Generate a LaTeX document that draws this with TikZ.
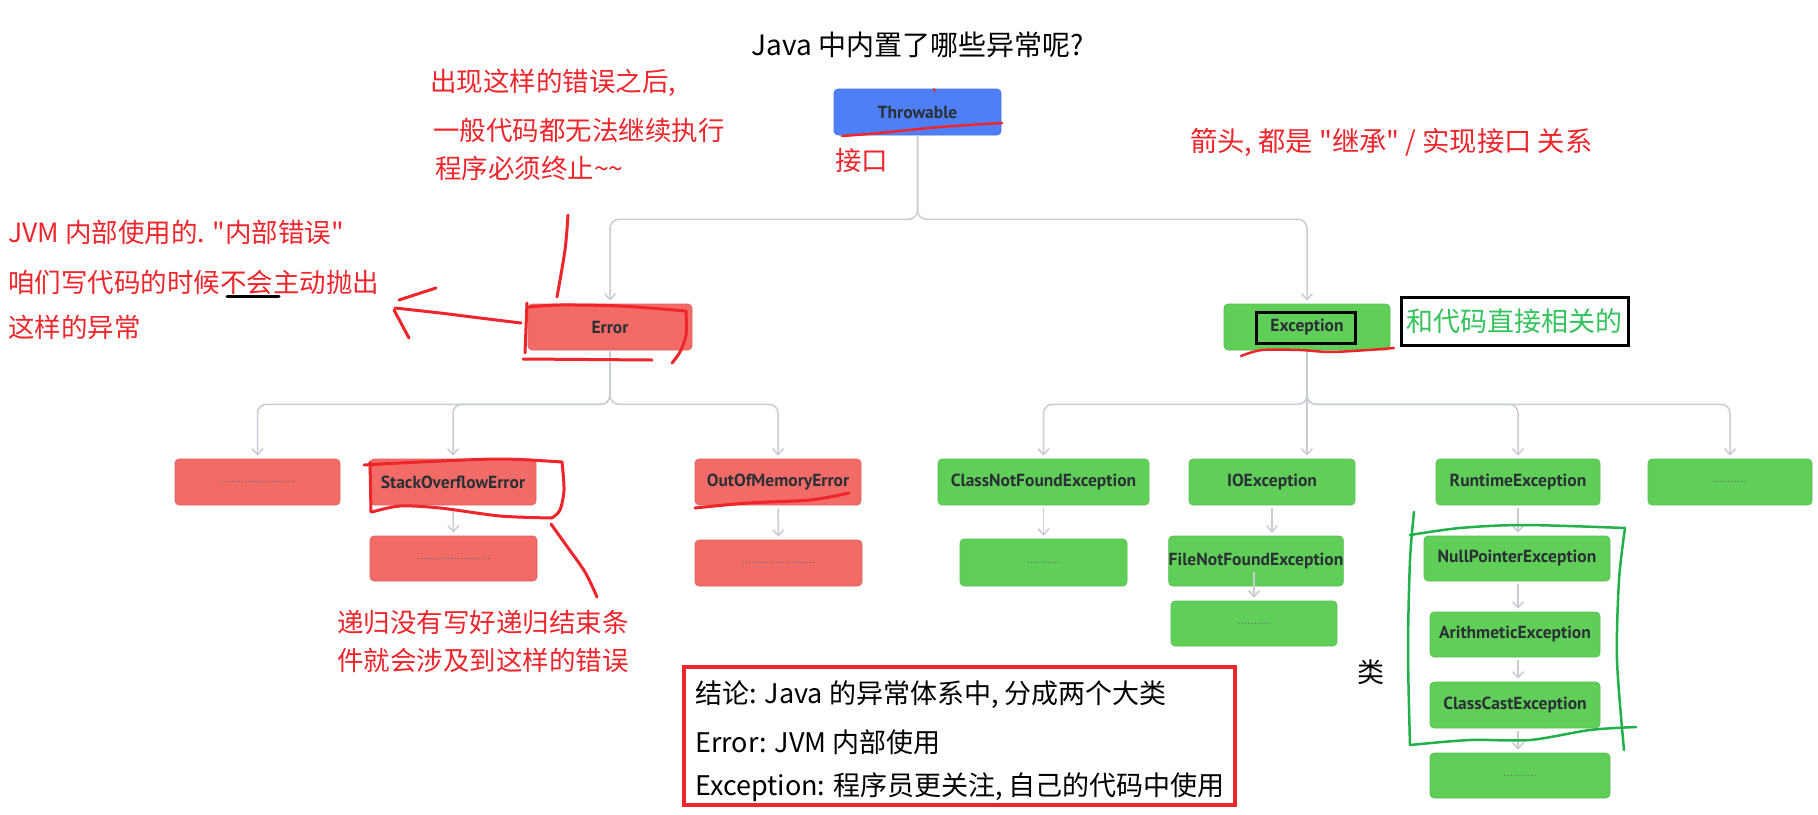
\documentclass[tikz,border=0pt]{standalone}
\usepackage{fontspec}
\setmainfont{Noto Sans CJK SC}[Ligatures=TeXOff]
\newfontfamily\boxfont{PT Sans}
\usetikzlibrary{arrows.meta}
\definecolor{thrblue}{HTML}{4E7FF6}
\definecolor{errred}{HTML}{F26B67}
\definecolor{excgreen}{HTML}{60CF58}
\definecolor{conngray}{HTML}{C8CCD3}
\definecolor{boxtext}{HTML}{2B2F36}
\definecolor{penred}{HTML}{EE262C}
\definecolor{pengreen}{HTML}{22B04A}
\definecolor{txtgreen}{HTML}{35C35C}
\definecolor{dotgray}{HTML}{6A6E75}
\tikzset{
 box/.style={rounded corners=4pt, inner sep=0pt, minimum height=46pt, font=\boxfont\bfseries\fontsize{17.5}{20}\selectfont, text=boxtext},
 bbox/.style={box, fill=thrblue, draw=thrblue!90!black, line width=0.6pt},
 ebox/.style={box, fill=errred, draw=errred!92!black, line width=0.6pt},
 gbox/.style={box, fill=excgreen, draw=excgreen!92!black, line width=0.6pt},
 conn/.style={draw=conngray, line width=1.5pt, rounded corners=9pt, -{Straight Barb[length=6pt,width=11pt]}, shorten >=3pt},
 kid/.style={conn, shorten <=3pt},
 pen/.style={draw=penred, line width=3pt, line cap=round, line join=round},
 gpen/.style={draw=pengreen, line width=2.5pt, line cap=round, line join=round},
 note/.style={text=penred, font=\fontsize{26.5}{30}\selectfont, inner sep=0pt, anchor=west},
 plain/.style={text=black, font=\fontsize{27}{30}\selectfont, inner sep=0pt, anchor=west},
}
\newcommand{\longdots}{\textcolor{dotgray}{\fontsize{12}{12}\selectfont\mdseries ......................}}
\newcommand{\shortdots}{\textcolor{dotgray}{\fontsize{12}{12}\selectfont\mdseries ..........}}
\begin{document}
\begin{tikzpicture}[x=1pt,y=-1pt]
\fill[white] (0,0) rectangle (1818,814);
\useasboundingbox (0,0) rectangle (1818,814);

% title
\node[text=black, font=\fontsize{28}{32}\selectfont, inner sep=0pt] (title) at (918,45) {Java 中内置了哪些异常呢?};

% boxes
\node[bbox, minimum width=167pt] (thr) at (917.5,112) {Throwable};
\node[ebox, minimum width=164pt] (err) at (610,327) {Error};
\node[gbox, minimum width=166pt] (exc) at (1307,327) {Exception};

\node[ebox, minimum width=165pt] (ed1) at (257.5,482) {\longdots};
\node[ebox, minimum width=166pt] (soe) at (453,482) {StackOverflowError};
\node[ebox, minimum width=166pt] (oom) at (778,482) {OutOfMemoryError};
\node[ebox, minimum width=167pt, minimum height=45pt] (soed) at (453.5,558.5) {\longdots};
\node[ebox, minimum width=167pt] (oomd) at (778.5,563) {\longdots};

\node[gbox, minimum width=211pt] (cnf) at (1043.5,482) {ClassNotFoundException};
\node[gbox, minimum width=166pt] (ioe) at (1272,482) {IOException};
\node[gbox, minimum width=164pt] (rte) at (1518,482) {RuntimeException};
\node[gbox, minimum width=164pt] (exd) at (1730,482) {\shortdots};
\node[gbox, minimum width=167pt, minimum height=47pt] (cnfd) at (1043.5,562.5) {\shortdots};
\node[gbox, minimum width=170pt, minimum height=50pt] (fnf) at (1256,561) {FileNotFoundException};
\node[gbox, minimum width=166pt, minimum height=45pt] (fnfd) at (1254,623.5) {\shortdots};
\node[gbox, minimum width=186pt, minimum height=45pt] (npe) at (1517,558.5) {NullPointerException};
\node[gbox, minimum width=170pt, minimum height=45pt] (ari) at (1515,634.5) {ArithmeticException};
\node[gbox, minimum width=170pt] (cce) at (1515,705) {ClassCastException};
\node[gbox, minimum width=180pt, minimum height=45pt] (rted) at (1520,775.5) {\shortdots};

% connectors
\draw[conn] (thr.south) -- ++(0,84) -| (err.north);
\draw[conn] (thr.south) -- ++(0,84) -| (exc.north);
\draw[conn] (err.south) -- ++(0,54) -| (ed1.north);
\draw[conn] (err.south) -- ++(0,54) -| (soe.north);
\draw[conn] (err.south) -- ++(0,54) -| (oom.north);
\draw[conn] (exc.south) -- ++(0,54) -| (cnf.north);
\draw[conn] (exc.south) -- (exc.south |- ioe.north);
\draw[conn] (exc.south) -- ++(0,54) -| (rte.north);
\draw[conn] (exc.south) -- ++(0,54) -| (exd.north);
\draw[kid] (soe.south) -- (soed.north);
\draw[kid] (oom.south) -- (oomd.north);
\draw[kid] (cnf.south) -- (cnfd.north);
\draw[kid] (ioe.south) -- (ioe.south |- fnf.north);
\draw[conn] ([yshift=14pt]fnf.south -| fnfd.north) -- (fnfd.north);
\draw[kid] (rte.south) -- (rte.south |- npe.north);
\draw[kid] (npe.south -| rte.south) -- (rte.south |- ari.north);
\draw[kid] (ari.south -| rte.south) -- (rte.south |- cce.north);
\draw[kid] (cce.south -| rte.south) -- (rte.south |- rted.north);

% black frames
\draw[black, line width=3pt] (1256,312) rectangle (1355,343);
\node[draw=black, line width=3pt, minimum width=227pt, minimum height=48pt, inner sep=0pt, text=txtgreen, font=\fontsize{27}{30}\selectfont] (rel) at (1514.5,321) {和代码直接相关的};

% red notes
\node[note] (n1) at (430,83) {出现这样的错误之后,};
\node[note] (n2) at (433,130) {一般代码都无法继续执行};
\node[note] (n3) at (435,168) {程序必须终止\textasciitilde\textasciitilde};
\node[note] (iface) at (835,160) {接口};
\node[note, font=\fontsize{27.3}{30}\selectfont] (tr) at (1190,143) {箭头, 都是 "继承" / 实现接口 关系};
\node[note] (l1) at (8,232) {JVM 内部使用的. "内部错误"};
\node[note] (l2) at (8,282) {咱们写代码的时候不会主动抛出};
\node[note] (l3) at (8,327) {这样的异常};
\draw[black, line width=3pt, line cap=round] (227,296) -- (279,296);
\node[note] (r1) at (337,622) {递归没有写好递归结束条};
\node[note] (r2) at (337,660) {件就会涉及到这样的错误};
\node[plain] (lei) at (1357,672) {类};

% summary
\node[draw=penred, line width=4pt, minimum width=551pt, minimum height=138pt, inner sep=0pt] (sum) at (959.5,736) {};
\node[plain] (s1) at (695,695) {结论: Java 的异常体系中, 分成两个大类};
\node[plain] (s2) at (695,742) {Error: JVM 内部使用};
\node[plain] (s3) at (695,787) {Exception: 程序员更关注, 自己的代码中使用};

% red pen strokes
\draw[pen, line width=2.5pt] plot[smooth] coordinates {(842,136) (880,133) (940,127) (1002,123)};
\draw[pen, line width=2pt] (934,89) -- (935,91);
\draw[pen] plot[smooth] coordinates {(529,307) (560,305) (620,306) (686,311)};
\draw[pen] plot[smooth] coordinates {(686,311) (686,335) (680,352) (672,363)};
\draw[pen] (527,303) -- (525,353);
\draw[pen] (523,359) -- (652,360);
\draw[pen] plot[smooth] coordinates {(568,215) (565,250) (557,297)};
\draw[pen] plot[smooth] coordinates {(521,323) (480,318) (440,313) (395,308)};
\draw[pen] (436,288) -- (399,300);
\draw[pen] (394,310) -- (409,338);
\draw[pen, line width=2.5pt] plot[smooth] coordinates {(1241,356) (1262,350) (1300,350) (1330,352) (1368,350) (1394,348)};
\draw[pen] plot[smooth] coordinates {(364,465) (420,462) (500,459) (562,462)};
\draw[pen] plot[smooth] coordinates {(562,462) (564,490) (560,510) (552,518)};
\draw[pen] plot[smooth] coordinates {(552,518) (500,516) (440,508) (400,506) (372,512)};
\draw[pen] (370,462) -- (371,512);
\draw[pen] plot[smooth] coordinates {(551,524) (566,545) (585,572) (597,597)};
\draw[pen] plot[smooth] coordinates {(695,508) (748,503) (810,500) (849,493)};

% green pen loop
\draw[gpen] plot[smooth] coordinates {(1414,512) (1410,560) (1408,650) (1410,745)};
\draw[gpen] plot[smooth] coordinates {(1410,535) (1460,528) (1524,525) (1625,528)};
\draw[gpen] plot[smooth] coordinates {(1625,528) (1619,580) (1617,660) (1624,750)};
\draw[gpen] plot[smooth] coordinates {(1410,745) (1470,740) (1530,740) (1590,730) (1636,727)};
\end{tikzpicture}
\end{document}
